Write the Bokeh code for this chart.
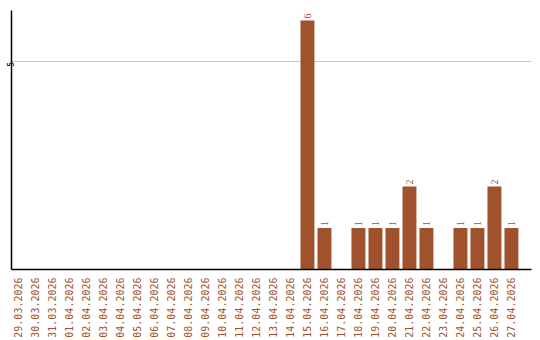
import math
from bokeh.plotting import figure
from bokeh.models import Range1d, FixedTicker, ColumnDataSource, LabelSet
from bokeh.embed import file_html
from bokeh.resources import INLINE

dates = ["29.03.2026", "30.03.2026", "31.03.2026", "01.04.2026", "02.04.2026",
         "03.04.2026", "04.04.2026", "05.04.2026", "06.04.2026", "07.04.2026",
         "08.04.2026", "09.04.2026", "10.04.2026", "11.04.2026", "12.04.2026",
         "13.04.2026", "14.04.2026", "15.04.2026", "16.04.2026", "17.04.2026",
         "18.04.2026", "19.04.2026", "20.04.2026", "21.04.2026", "22.04.2026",
         "23.04.2026", "24.04.2026", "25.04.2026", "26.04.2026", "27.04.2026"]
counts = [0, 0, 0, 0, 0, 0, 0, 0, 0, 0, 0, 0, 0, 0, 0, 0, 0,
          6, 1, 0, 1, 1, 1, 2, 1, 0, 1, 1, 2, 1]

BROWN = "#A0522D"
FONT = "DejaVu Sans Mono"

idx = list(range(len(dates)))
nz = [i for i in idx if counts[i] > 0]
src = ColumnDataSource(dict(x=nz, top=[counts[i] for i in nz],
                            lbl=[str(counts[i]) for i in nz]))

p = figure(width=540, height=340, output_backend="svg", toolbar_location=None,
           x_range=Range1d(-0.41, 30.18), y_range=Range1d(0, 6.24),
           min_border_left=11, min_border_right=9, min_border_top=10,
           min_border_bottom=70)
p.outline_line_color = None
p.background_fill_color = "white"
p.border_fill_color = "white"

p.vbar(x="x", top="top", bottom=0, width=0.82, source=src,
       fill_color=BROWN, line_color=None)

labels = LabelSet(x="x", y="top", text="lbl", source=src, angle=math.pi / 2,
                  text_align="left", text_baseline="middle", y_offset=2,
                  text_color=BROWN, text_font_size="10px", text_font=FONT)
p.add_layout(labels)

p.xaxis.ticker = FixedTicker(ticks=idx)
p.xaxis.major_label_overrides = {i: d for i, d in zip(idx, dates)}
p.xaxis.major_label_orientation = math.pi / 2
p.xaxis.major_label_text_color = BROWN
p.xaxis.major_label_text_font = FONT
p.xaxis.major_label_text_font_size = "10px"
p.xaxis.major_label_standoff = 8
p.xaxis.major_tick_line_color = None
p.xaxis.major_tick_out = 0
p.xaxis.major_tick_in = 0
p.xaxis.minor_tick_line_color = None
p.xaxis.minor_tick_out = 0
p.xaxis.axis_line_color = "black"
p.xaxis.axis_line_width = 1.5

p.yaxis.ticker = FixedTicker(ticks=[5])
p.yaxis.major_label_orientation = math.pi / 2
p.yaxis.major_label_text_font = FONT
p.yaxis.major_label_text_font_size = "8px"
p.yaxis.major_label_text_color = "black"
p.yaxis.major_label_standoff = 1
p.yaxis.major_tick_line_color = None
p.yaxis.major_tick_out = 0
p.yaxis.major_tick_in = 0
p.yaxis.minor_tick_line_color = None
p.yaxis.minor_tick_out = 0
p.yaxis.axis_line_color = "black"
p.yaxis.axis_line_width = 1.5

p.xgrid.grid_line_color = None
p.ygrid.ticker = FixedTicker(ticks=[5])
p.ygrid.grid_line_color = "#c8c8c8"
p.ygrid.grid_line_width = 1

open("out.html", "w").write(file_html(p, INLINE))
